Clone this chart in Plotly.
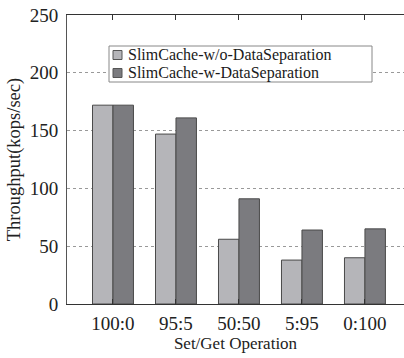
import plotly.graph_objects as go

categories = ["100:0", "95:5", "50:50", "5:95", "0:100"]
without_sep = [172, 147, 56, 38, 40]
with_sep = [172, 161, 91, 64, 65]
series_names = ["SlimCache-w/o-DataSeparation", "SlimCache-w-DataSeparation"]
series_colors = ["#b5b5b9", "#7b7b7f"]
y_ticks = [0, 50, 100, 150, 200, 250]

FONT = "Liberation Serif, Times New Roman, serif"

fig = go.Figure()
for name, vals, col in zip(series_names, [without_sep, with_sep], series_colors):
    fig.add_trace(go.Bar(x=list(range(len(categories))), y=vals, name=name,
                         marker=dict(color=col, line=dict(color="#4a4a4a", width=1))))

# Compact legend drawn in paper coordinates (plot area 67..404 x 15..304 px)
def px_x(px):
    return (px - 67) / 337.0

def px_y(py):
    return (304 - py) / 289.0

shapes = [dict(type="rect", xref="paper", yref="paper",
               x0=px_x(109), x1=px_x(372), y0=px_y(82), y1=px_y(46),
               fillcolor="white", line=dict(color="#888888", width=1), layer="above")]
annotations = []
row_centers = [55, 73]
for name, col, yc in zip(series_names, series_colors, row_centers):
    shapes.append(dict(type="rect", xref="paper", yref="paper",
                       x0=px_x(113), x1=px_x(122), y0=px_y(yc + 4.5), y1=px_y(yc - 4.5),
                       fillcolor=col, line=dict(color="#555555", width=1), layer="above"))
    annotations.append(dict(xref="paper", yref="paper", x=px_x(126), y=px_y(yc),
                            xanchor="left", yanchor="middle", showarrow=False,
                            text=name, font=dict(family=FONT, size=16, color="#1a1a1a")))

fig.update_layout(
    width=404, height=358,
    margin=dict(l=67, r=0, t=15, b=54),
    paper_bgcolor="white", plot_bgcolor="white",
    barmode="group", bargap=0.35, bargroupgap=0,
    font=dict(family=FONT, color="#222222", size=19),
    showlegend=False,
    shapes=shapes, annotations=annotations,
    xaxis=dict(range=[-0.73, 4.62], tickmode="array",
               tickvals=list(range(len(categories))), ticktext=categories,
               showline=True, linecolor="#333333", linewidth=1, mirror="ticks",
               ticks="inside", ticklen=5, tickcolor="#333333",
               showgrid=False, zeroline=False, ticklabelstandoff=2,
               title=dict(text="Set/Get Operation", standoff=2,
                          font=dict(family=FONT, size=17))),
    yaxis=dict(range=[0, 250], tickvals=y_ticks,
               showline=True, linecolor="#555555", linewidth=1,
               ticks="", showgrid=True, gridcolor="#999999", griddash="dot",
               gridwidth=1, zeroline=False, ticklabelstandoff=4,
               title=dict(text="Throughput(kops/sec)", standoff=4,
                          font=dict(family=FONT, size=18.5))),
)

fig.write_html("out.html")
